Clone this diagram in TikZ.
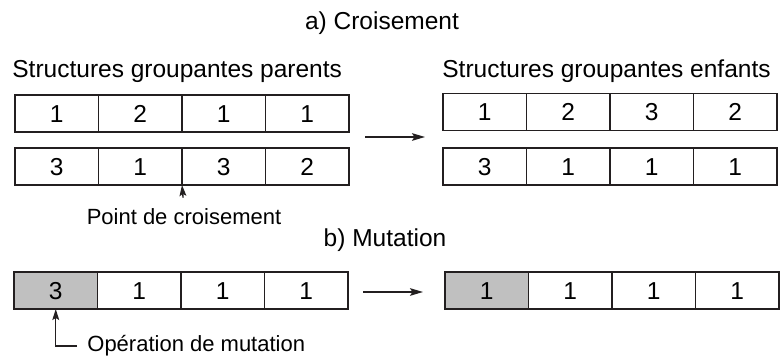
\documentclass[tikz,border=0pt]{standalone}
\usepackage{fontspec}
\setmainfont{Liberation Sans}
\usepackage{xcolor}
\usetikzlibrary{positioning,arrows.meta}
\definecolor{inkline}{HTML}{231F20}
\definecolor{mutfill}{HTML}{C0C0C0}

\begin{document}
\begin{tikzpicture}[x=0.5pt, y=-0.5pt, node distance=0pt,
    cell/.style={draw=inkline, line width=0.7pt, minimum width=41.75pt, minimum height=18.5pt, inner sep=0pt, outer sep=0pt, text height=8.8pt, text depth=0pt, font=\fontsize{12.25}{14}\selectfont},
    title/.style={inner sep=0pt, font=\fontsize{12.25}{15}\selectfont},
    lbl/.style={inner sep=0pt, font=\fontsize{11}{13}\selectfont},
    flow/.style={draw=inkline, line width=0.7pt, -{Stealth[length=6.5pt, width=3.8pt, inset=1.2pt]}},
    ptr/.style={draw=inkline, line width=0.7pt, -{Stealth[length=5.5pt, width=3.4pt, inset=1pt]}}]
    \useasboundingbox (0,0) rectangle (781,356);

    % Titles
    \node [title, anchor=base] (tcross) at (382,30) {a) Croisement};
    \node [title, anchor=base west] (tpar) at (12,78) {Structures groupantes parents};
    \node [title, anchor=base west] (tenf) at (442,78) {Structures groupantes enfants};
    \node [title, anchor=base] (tmut) at (385,247) {b) Mutation};

    % Parent structures
    \node [cell] (pa1) at (56.75,113.5) {1};
    \node [cell, right=of pa1] (pa2) {2};
    \node [cell, right=of pa2] (pa3) {1};
    \node [cell, right=of pa3] (pa4) {1};
    \node [cell] (pb1) at (56.75,166.5) {3};
    \node [cell, right=of pb1] (pb2) {1};
    \node [cell, right=of pb2] (pb3) {3};
    \node [cell, right=of pb3] (pb4) {2};

    % Child structures
    \node [cell] (ea1) at (484.75,112) {1};
    \node [cell, right=of ea1] (ea2) {2};
    \node [cell, right=of ea2] (ea3) {3};
    \node [cell, right=of ea3] (ea4) {2};
    \node [cell] (eb1) at (484.75,166.5) {3};
    \node [cell, right=of eb1] (eb2) {1};
    \node [cell, right=of eb2] (eb3) {1};
    \node [cell, right=of eb3] (eb4) {1};

    % Mutation
    \node [cell, fill=mutfill] (ma1) at (55.75,290.5) {3};
    \node [cell, right=of ma1] (ma2) {1};
    \node [cell, right=of ma2] (ma3) {1};
    \node [cell, right=of ma3] (ma4) {1};
    \node [cell, fill=mutfill] (mb1) at (486.75,290.5) {1};
    \node [cell, right=of mb1] (mb2) {1};
    \node [cell, right=of mb2] (mb3) {1};
    \node [cell, right=of mb3] (mb4) {1};

    % Labels
    \node [lbl, anchor=base] (xlbl) at (184,225) {Point de croisement};
    \node [lbl, anchor=base west] (mlbl) at (87,352) {Opération de mutation};

    % Arrows
    \coordinate (xfrom) at (365,137);
    \coordinate (xto) at (425,137);
    \coordinate (mfrom) at (363,292);
    \coordinate (mto) at (423,292);
    \draw [flow] (xfrom) -- (xto);
    \draw [flow] (mfrom) -- (mto);
    \draw [ptr, shorten <=5.5pt] (xlbl.north) -- (pb2.south east);
    \draw [ptr] ([xshift=-5pt]mlbl.west) -| (ma1.south);
\end{tikzpicture}
\end{document}
